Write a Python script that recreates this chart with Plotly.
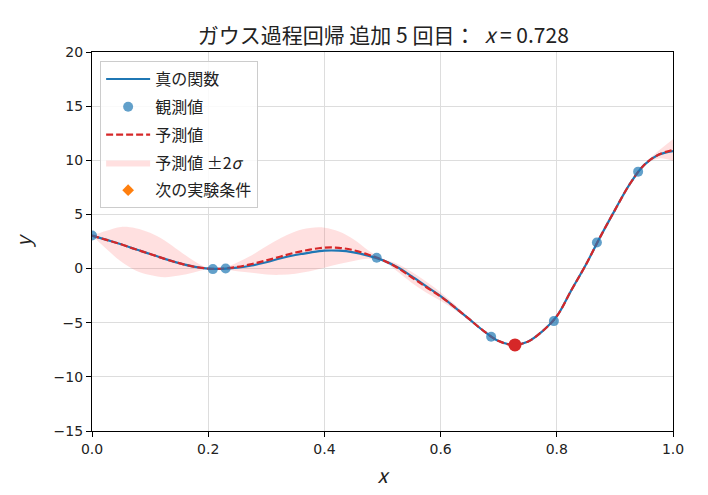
import plotly.graph_objects as go

# grid x
x_grid = [round(i * 0.025, 3) for i in range(41)]

true_y = [3.05, 2.65, 2.25, 1.78, 1.35, 0.90, 0.50, 0.18, 0.00, -0.03,
          0.08, 0.28, 0.58, 0.95, 1.25, 1.48, 1.65, 1.65, 1.50, 1.20,
          0.78, 0.15, -0.70, -1.63, -2.55, -3.60, -4.70, -5.80, -6.70, -7.05,
          -6.75, -5.80, -4.40, -2.00, 0.35, 2.95, 5.40, 7.75, 9.55, 10.50,
          10.85]

mean_y = [3.05, 2.65, 2.25, 1.78, 1.35, 0.90, 0.50, 0.18, 0.00, 0.00,
          0.15, 0.42, 0.75, 1.12, 1.48, 1.75, 1.93, 1.92, 1.70, 1.30,
          0.80, 0.10, -0.80, -1.70, -2.58, -3.60, -4.70, -5.80, -6.70, -7.05,
          -6.75, -5.80, -4.40, -2.00, 0.35, 2.95, 5.40, 7.75, 9.55, 10.52,
          10.95]

band_2sigma = [0.00, 0.85, 1.60, 1.95, 1.95, 1.70, 1.15, 0.55, 0.05, 0.02,
               0.40, 0.80, 1.30, 1.70, 1.95, 2.00, 1.85, 1.50, 1.00, 0.40,
               0.10, 0.35, 0.50, 0.50, 0.40, 0.25, 0.10, 0.03, 0.03, 0.00,
               0.05, 0.05, 0.02, 0.05, 0.05, 0.02, 0.05, 0.05, 0.05, 0.35,
               1.00]

obs_x = [0.0, 0.208, 0.230, 0.490, 0.687, 0.795, 0.869, 0.940]
obs_y = [3.05, -0.05, 0.00, 1.00, -6.30, -4.85, 2.40, 8.95]

next_x = [0.728]
next_y = [-7.05]

x_ticks = [0.0, 0.2, 0.4, 0.6, 0.8, 1.0]
x_tick_labels = ["0.0", "0.2", "0.4", "0.6", "0.8", "1.0"]
y_ticks = [-15, -10, -5, 0, 5, 10, 15, 20]
y_tick_labels = ["\u221215", "\u221210", "\u22125", "0", "5", "10", "15", "20"]

lower = [m - b for m, b in zip(mean_y, band_2sigma)]
upper = [m + b for m, b in zip(mean_y, band_2sigma)]

FONT = "Noto Sans CJK JP, DejaVu Sans, sans-serif"
TICKFONT = "DejaVu Sans, sans-serif"
band_color = "rgba(255,100,100,0.2)"

fig = go.Figure()

fig.add_trace(go.Scatter(x=x_grid, y=lower, mode="lines", line=dict(width=0, shape="spline"),
                         showlegend=False, hoverinfo="skip"))
fig.add_trace(go.Scatter(x=x_grid, y=upper, mode="lines", line=dict(width=0, shape="spline"),
                         fill="tonexty", fillcolor=band_color, name="予測値 ±2<i>σ</i>",
                         legendgroup="d", legendrank=4))
fig.add_trace(go.Scatter(x=x_grid, y=true_y, mode="lines", name="真の関数",
                         line=dict(color="#1f77b4", width=2.2, shape="spline"),
                         legendgroup="a", legendrank=1))
fig.add_trace(go.Scatter(x=x_grid, y=mean_y, mode="lines", name="予測値",
                         line=dict(color="#d62728", width=2.2, dash="7px,3px", shape="spline"),
                         legendgroup="c", legendrank=3))
fig.add_trace(go.Scatter(x=obs_x, y=obs_y, mode="markers", name="観測値",
                         marker=dict(color="rgba(31,119,180,0.7)", size=10),
                         legendgroup="b", legendrank=2))
fig.add_trace(go.Scatter(x=next_x, y=next_y, mode="markers", name="次の実験条件",
                         marker=dict(color="#ff7f0e", size=9, symbol="diamond"),
                         legendgroup="e", legendrank=5))
fig.add_trace(go.Scatter(x=next_x, y=next_y, mode="markers", showlegend=False,
                         marker=dict(color="#d62728", size=13)))

fig.update_layout(
    width=708, height=495,
    margin=dict(l=84, r=43, t=44, b=72),
    paper_bgcolor="white", plot_bgcolor="white",
    font=dict(family=FONT, size=14, color="#222"),
    title=dict(text="ガウス過程回帰 追加 5 回目：  <i>x</i> = 0.728", x=0.53, xanchor="center",
               y=0.945, yanchor="middle", font=dict(size=21, color="#222")),
    legend=dict(x=0.014, y=0.976, xanchor="left", yanchor="top",
                bgcolor="rgba(255,255,255,0.85)", bordercolor="#cccccc", borderwidth=1,
                font=dict(size=16), traceorder="grouped", tracegroupgap=4,
                itemwidth=44),
    xaxis=dict(range=[0, 1], tickvals=x_ticks, ticktext=x_tick_labels,
               showgrid=True, gridcolor="#dddddd", gridwidth=1,
               showline=True, linecolor="black", linewidth=1.2, mirror=True,
               ticks="outside", ticklen=5, tickcolor="black", zeroline=False,
               tickfont=dict(size=14, family=TICKFONT),
               title=dict(text="<i>x</i>", font=dict(size=20), standoff=13)),
    yaxis=dict(range=[-15, 20], tickvals=y_ticks, ticktext=y_tick_labels,
               showgrid=True, gridcolor="#dddddd", gridwidth=1,
               showline=True, linecolor="black", linewidth=1.2, mirror=True,
               ticks="outside", ticklen=5, tickcolor="black", zeroline=False,
               tickfont=dict(size=14, family=TICKFONT),
               title=dict(text="<i>y</i>", font=dict(size=20), standoff=20)),
)

fig.write_html("out.html")
